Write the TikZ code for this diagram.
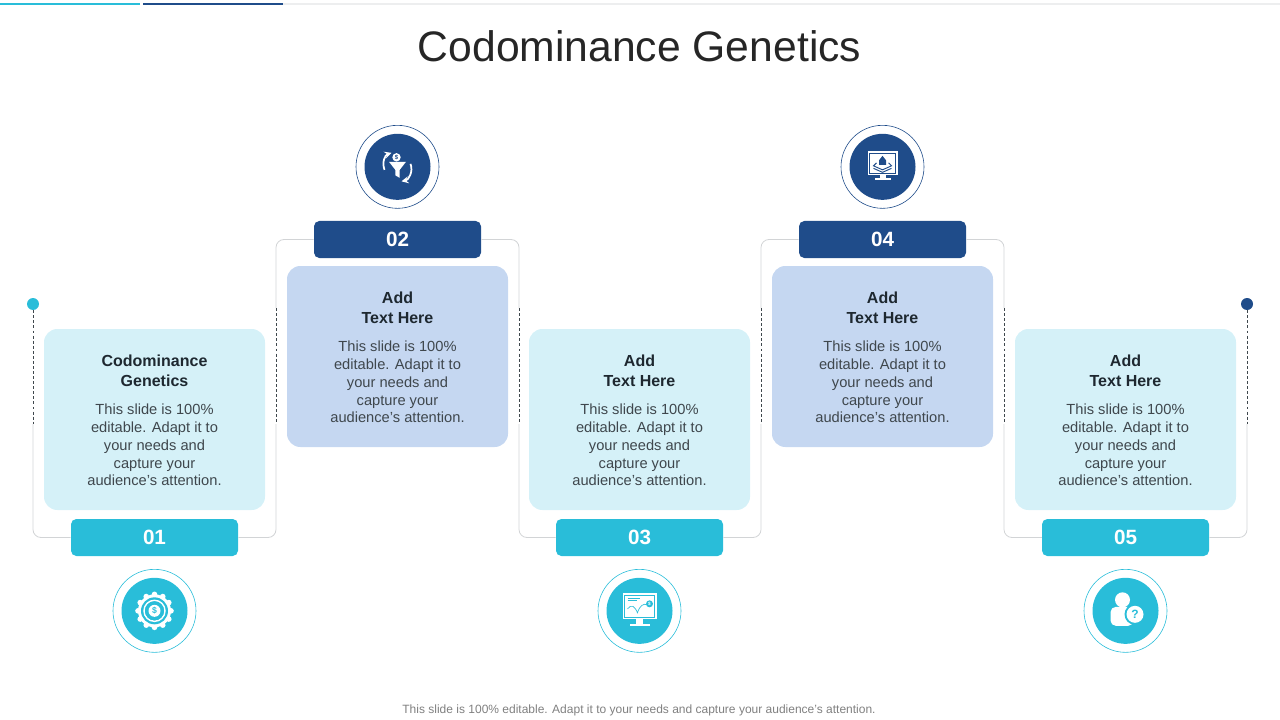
\documentclass[tikz,border=0pt]{standalone}
\usepackage{fontspec}
\setmainfont{Liberation Sans}
\usetikzlibrary{arrows}
\definecolor{cyanmain}{HTML}{29BDD9}
\definecolor{bluemain}{HTML}{1F4C8A}
\definecolor{cyanlight}{HTML}{D5F1F8}
\definecolor{bluelight}{HTML}{C5D7F1}
\definecolor{framegray}{HTML}{D2D4D6}
\definecolor{headtext}{HTML}{1E2830}
\definecolor{bodytext}{HTML}{3F474D}
\newcommand{\cardhead}[1]{{\fontsize{12}{13.3}\selectfont\bfseries\color{headtext}\rule{0pt}{10.5pt}#1}}
\tikzstyle{card} = [rectangle, rounded corners=10pt, minimum width=165.75pt, minimum height=135.75pt, inner sep=0pt, align=center, text=bodytext, font=\fontsize{11}{13.3}\selectfont]
\tikzstyle{cardcyan} = [card, fill=cyanlight]
\tikzstyle{cardblue} = [card, fill=bluelight]
\tikzstyle{tagbox} = [rectangle, rounded corners=4pt, minimum width=125.25pt, minimum height=27.75pt, inner sep=0pt, text=white, font=\fontsize{15.5}{15.5}\selectfont\bfseries]
\tikzstyle{tagcyan} = [tagbox, fill=cyanmain]
\tikzstyle{tagblue} = [tagbox, fill=bluemain]
\tikzstyle{ring} = [circle, minimum size=62.25pt, inner sep=0pt, draw, line width=0.45pt]
\tikzstyle{disc} = [circle, minimum size=49.5pt, inner sep=0pt]
\tikzstyle{enddot} = [circle, minimum size=9pt, inner sep=0pt]
\tikzstyle{frameline} = [draw=framegray, line width=0.6pt, rounded corners=6pt]
\tikzstyle{dashline} = [draw=bodytext, line width=0.6pt, dash pattern=on 2.2pt off 1.6pt]
\tikzstyle{iconarrow} = [white, line width=1.3pt, ->, >=stealth]

\begin{document}
\begin{tikzpicture}[x=0.75pt, y=-0.75pt]
  \useasboundingbox (0,0) rectangle (1280,720);
  % top bar
  \fill[framegray!40] (283,3) rectangle (1280,5);
  \fill[cyanmain] (0,3) rectangle (140,5);
  \fill[bluemain] (143,3) rectangle (283,5);

  \node(title)[text=black!85, font=\fontsize{32}{32}\selectfont] at (639.5,46){Codominance Genetics};
  \node(note)[text=gray, font=\fontsize{9}{9}\selectfont] at (639,710){This slide is 100\% editable. Adapt it to your needs and capture your audience's attention.};

  % cards
  \node(card1)[cardcyan] at (154.5,419.5){\cardhead{Codominance}\\[1pt]\cardhead{Genetics}\\[8.4pt]This slide is 100\%\\editable. Adapt it to\\your needs and\\capture your\\audience's attention.};
  \node(card2)[cardblue] at (397.5,356.5){\cardhead{Add}\\[1pt]\cardhead{Text Here}\\[8.4pt]This slide is 100\%\\editable. Adapt it to\\your needs and\\capture your\\audience's attention.};
  \node(card3)[cardcyan] at (639.5,419.5){\cardhead{Add}\\[1pt]\cardhead{Text Here}\\[8.4pt]This slide is 100\%\\editable. Adapt it to\\your needs and\\capture your\\audience's attention.};
  \node(card4)[cardblue] at (882.5,356.5){\cardhead{Add}\\[1pt]\cardhead{Text Here}\\[8.4pt]This slide is 100\%\\editable. Adapt it to\\your needs and\\capture your\\audience's attention.};
  \node(card5)[cardcyan] at (1125.5,419.5){\cardhead{Add}\\[1pt]\cardhead{Text Here}\\[8.4pt]This slide is 100\%\\editable. Adapt it to\\your needs and\\capture your\\audience's attention.};

  % number tags
  \node(tag1)[tagcyan, below of=card1, node distance=88.5pt]{01};
  \node(tag2)[tagblue, above of=card2, node distance=87.75pt]{02};
  \node(tag3)[tagcyan, below of=card3, node distance=88.5pt]{03};
  \node(tag4)[tagblue, above of=card4, node distance=87.75pt]{04};
  \node(tag5)[tagcyan, below of=card5, node distance=88.5pt]{05};

  % icon circles
  \node(ring1)[ring, draw=cyanmain, below of=tag1, node distance=55pt]{};
  \node(ring2)[ring, draw=bluemain, above of=tag2, node distance=54.5pt]{};
  \node(ring3)[ring, draw=cyanmain, below of=tag3, node distance=55pt]{};
  \node(ring4)[ring, draw=bluemain, above of=tag4, node distance=54.5pt]{};
  \node(ring5)[ring, draw=cyanmain, below of=tag5, node distance=55pt]{};
  \node(disc1)[disc, fill=cyanmain] at (ring1){};
  \node(disc2)[disc, fill=bluemain] at (ring2){};
  \node(disc3)[disc, fill=cyanmain] at (ring3){};
  \node(disc4)[disc, fill=bluemain] at (ring4){};
  \node(disc5)[disc, fill=cyanmain] at (ring5){};

  % frame line
  \node(dot1)[enddot, fill=cyanmain] at (33,304){};
  \node(dot2)[enddot, fill=bluemain] at (1247,304){};
  \coordinate(j1) at (33,424);
  \coordinate(j2) at (276,424);
  \coordinate(m2) at (276,308);
  \coordinate(j3) at (519,424);
  \coordinate(m3) at (519,308);
  \coordinate(j4) at (761,424);
  \coordinate(m4) at (761,308);
  \coordinate(j5) at (1004,424);
  \coordinate(m5) at (1004,308);
  \coordinate(j6) at (1247,424);
  \draw[frameline] (j1) |- (tag1.west);
  \draw[frameline] (tag1.east) -| (j2);
  \draw[frameline] (m2) |- (tag2.west);
  \draw[frameline] (tag2.east) -| (m3);
  \draw[frameline] (j3) |- (tag3.west);
  \draw[frameline] (tag3.east) -| (j4);
  \draw[frameline] (m4) |- (tag4.west);
  \draw[frameline] (tag4.east) -| (m5);
  \draw[frameline] (j5) |- (tag5.west);
  \draw[frameline] (tag5.east) -| (j6);
  \draw[dashline] (dot1)--(j1);
  \draw[dashline] (m2)--(j2);
  \draw[dashline] (m3)--(j3);
  \draw[dashline] (m4)--(j4);
  \draw[dashline] (m5)--(j5);
  \draw[dashline] (dot2)--(j6);

  % icon 1: gear
  \begin{scope}[shift={(disc1)}]
    \foreach \a in {0,30,...,330} \fill[white] (\a:16.5) circle (2.8);
    \fill[white] (0,0) circle (16.5);
    \fill[cyanmain] (0,0) circle (13.5);
    \draw[white, line width=1.1pt] (0,0) circle (10.5);
    \draw[cyanmain, line width=1.6pt] (0,0) circle (8.3);
    \fill[white] (0,0) circle (6);
    \node(coin1)[text=cyanmain, inner sep=0pt, font=\fontsize{6.5}{6.5}\selectfont\bfseries] at (0,0){\$};
  \end{scope}

  % icon 2: funnel
  \begin{scope}[shift={(disc2)}]
    \fill[white] (-8.5,-5) -- (8.5,-5) -- (2.2,3) -- (2.2,11) -- (-2.2,8.5) -- (-2.2,3) -- cycle;
    \fill[white] (-1,-9.5) circle (4.2);
    \node(coin2)[text=bluemain, inner sep=0pt, font=\fontsize{4.5}{4.5}\selectfont\bfseries] at (-1,-9.5){\$};
    \draw[iconarrow] (-13,3) .. controls (-16,-5) and (-12,-12) .. (-6,-14);
    \draw[iconarrow] (13,-3) .. controls (16,5) and (11,13) .. (4,14.5);
  \end{scope}

  % icon 3: monitor with chart
  \begin{scope}[shift={(disc3)}]
    \fill[white] (-17,-18) rectangle (17,8);
    \fill[white] (-3.5,8) rectangle (3.5,13);
    \fill[white] (-10,13) rectangle (10,15.5);
    \draw[cyanmain, line width=0.35pt] (-15,-16) rectangle (15,6);
    \draw[cyanmain, line width=0.5pt] (-12,-13) -- (0,-13) (-12,-10.5) -- (-3,-10.5);
    \draw[cyanmain, line width=0.5pt] (-12,-2) .. controls (-8,-7) and (-5,-5) .. (-2,2) .. controls (0,-5) and (4,-8) .. (8,-6);
    \fill[cyanmain] (10,-7) circle (3.5);
    \node(coin3)[text=white, inner sep=0pt, font=\fontsize{3.5}{3.5}\selectfont\bfseries] at (10,-7){\$};
  \end{scope}

  % icon 4: monitor with layers
  \begin{scope}[shift={(disc4)}]
    \fill[white] (-15,-16) rectangle (15,8);
    \fill[white] (-3,8) rectangle (3,11);
    \fill[white] (-8,11) rectangle (8,13);
    \draw[bluemain, line width=0.35pt] (-13,-14) rectangle (13,6);
    \fill[bluemain] (0,-11) -- (3.5,-6.5) -- (3.5,-2) -- (-3.5,-2) -- (-3.5,-6.5) -- cycle;
    \draw[bluemain, line width=0.7pt] (-6,-4) -- (-9,-1) -- (0,3) -- (9,-1) -- (6,-4);
    \draw[bluemain, line width=0.7pt] (-9,1.5) -- (0,5.5) -- (9,1.5);
  \end{scope}

  % icon 5: person with question mark
  \begin{scope}[shift={(disc5)}]
    \fill[white] (-3,-11) circle (7.5);
    \fill[white, rounded corners=4pt] (-15,15) -- (-15,-4) -- (8,-4) -- (8,15) -- cycle;
    \fill[cyanmain] (9.5,3.5) circle (10.5);
    \fill[white] (9.5,3.5) circle (8.5);
    \node(help5)[text=cyanmain, inner sep=0pt, font=\fontsize{9}{9}\selectfont\bfseries] at (9.5,3.5){?};
  \end{scope}
\end{tikzpicture}
\end{document}
